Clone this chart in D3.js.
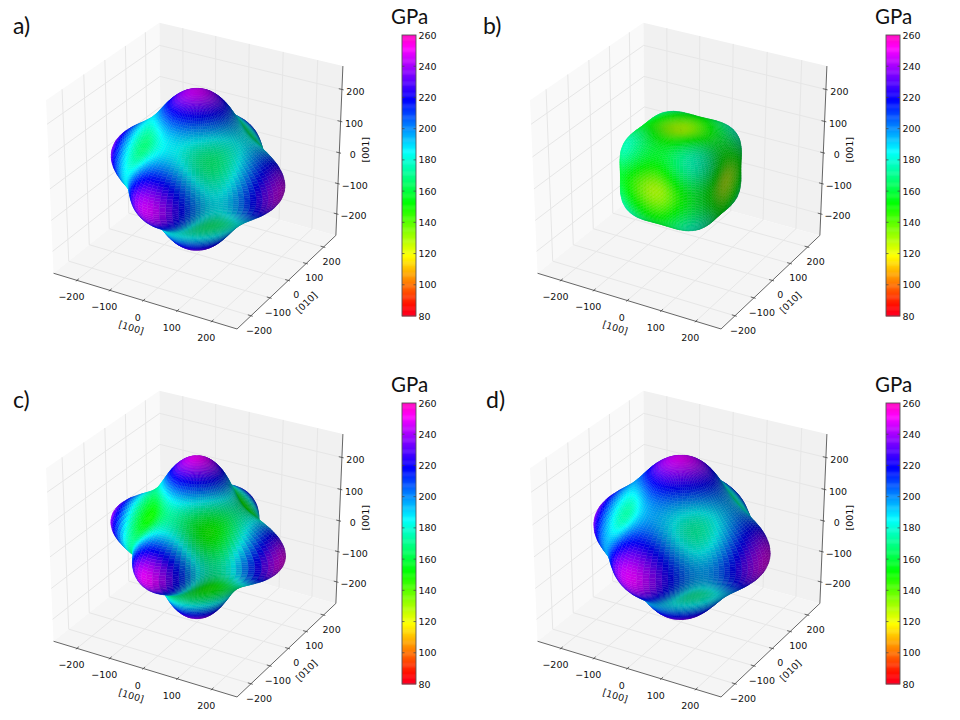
<!DOCTYPE html>
<html>
<head>
<meta charset="utf-8">
<script src="https://cdnjs.cloudflare.com/ajax/libs/d3/7.8.5/d3.min.js"></script>
<style>
html, body { margin: 0; padding: 0; background: #fff; }
svg { display: block; }
text { font-family: "DejaVu Sans", sans-serif; fill: #111; }
.slide { font-family: Lato, "Open Sans", sans-serif; fill: #111; }
</style>
</head>
<body>
<div id="chart"></div>
<script>
// values, GPa, one entry per panel
const panels = ['a)', 'b)', 'c)', 'd)'];
const along100 = [246, 130, 250, 248];
const along110 = [187, 158, 173, 197];
const along111 = [168, 176, 150, 174];

const axisTicks = [-200, -100, 0, 100, 200];
const axisNames = ['[100]', '[010]', '[001]'];
const barTicks = [80, 100, 120, 140, 160, 180, 200, 220, 240, 260];

// gist_rainbow stops
const rampStops = [0, 0.03, 0.215, 0.4, 0.586, 0.77, 0.954, 1];
const rampColors = ['#ff0029', '#ff0000', '#ffff00', '#00ff00', '#00ffff', '#0000ff', '#ff00ff', '#ff00bf'];

const width = 960, height = 720;
const limit = 272;
const rows = 100, cols = 100;
const offsets = [[0, 0], [484, 0], [0, 368], [484, 368]];
const labelPos = [[13, 34], [483, 34], [13, 408], [486, 408]];

const color = d3.scaleLinear().domain(rampStops).range(rampColors);
const barColor = d3.scaleLinear().domain([80, 260]).range([0, 1]);

const unit = d3.scaleLinear().domain([-limit, limit]).range([-0.5, 0.5]);
const px = d3.scaleLinear().domain([-0.1, 0.1]).range([196.9 - 211.8, 196.9 + 211.8]);
const py = d3.scaleLinear().domain([-0.1, 0.1]).range([170.6 + 197.5, 170.6 - 197.5]);
const barY = d3.scaleLinear().domain([80, 260]).range([316, 35]);

// camera as matplotlib sets it: elev 30, azim -60, dist 10
const elev = 30 * Math.PI / 180, azim = -60 * Math.PI / 180, dist = 10;
const n = [Math.cos(azim) * Math.cos(elev), Math.sin(azim) * Math.cos(elev), Math.sin(elev)];
const u = [-n[1], n[0], 0].map(d => d / Math.hypot(n[0], n[1]));
const v = [n[1] * u[2] - n[2] * u[1], n[2] * u[0] - n[0] * u[2], n[0] * u[1] - n[1] * u[0]];
const dot = (a, b) => a[0] * b[0] + a[1] * b[1] + a[2] * b[2];
const light = [-1, -1, 0.5].map(d => d / 1.5);

const project = p => {
	let c = p.map(unit);
	let w = dist - dot(n, c);
	return { x: px(dot(u, c) / w), y: py(dot(v, c) / w), depth: w };
};

const line = d3.line().x(d => d.x).y(d => d.y);

const svg = d3.select('#chart').append('svg')
	.attr('width', width)
	.attr('height', height);

const buildFaces = (e100, e110, e111) => {
	let s0 = 1 / e100;
	let s1 = 4 * (1 / e110 - s0);
	let s2 = 27 * (1 / e111 - s0 - s1 / 3);
	const modulus = (l, m, k) => {
		let j = l * l * m * m + m * m * k * k + l * l * k * k;
		return 1 / (s0 + s1 * j + s2 * l * l * m * m * k * k);
	};
	let verts = [];
	for (let i = 0; i <= rows; i++) {
		let th = Math.PI * i / rows;
		let row = [];
		for (let j = 0; j <= cols; j++) {
			let ph = 2 * Math.PI * j / cols;
			let l = Math.sin(th) * Math.cos(ph), m = Math.sin(th) * Math.sin(ph), k = Math.cos(th);
			let e = modulus(l, m, k);
			row.push({ p: [e * l, e * m, e * k], e: e });
		}
		verts.push(row);
	}
	let faces = [];
	let eye = n.map(d => d * dist * 2 * limit);
	for (let i = 0; i < rows; i++) {
		for (let j = 0; j < cols; j++) {
			let a = verts[i][j], b = verts[i][j + 1], c = verts[i + 1][j + 1], d = verts[i + 1][j];
			let d1 = c.p.map((t, q) => t - a.p[q]);
			let d2 = d.p.map((t, q) => t - b.p[q]);
			let nor = [d1[1] * d2[2] - d1[2] * d2[1], d1[2] * d2[0] - d1[0] * d2[2], d1[0] * d2[1] - d1[1] * d2[0]];
			let len = Math.hypot(nor[0], nor[1], nor[2]);
			if (len === 0) continue;
			let mid = [0, 1, 2].map(q => (a.p[q] + b.p[q] + c.p[q] + d.p[q]) / 4);
			if (dot(nor, mid) < 0) nor = nor.map(t => -t);
			nor = nor.map(t => t / len);
			// skip what faces away from the camera
			if (dot(nor, eye.map((t, q) => t - mid[q])) < 0) continue;
			let shade = 0.5 + 0.5 * (dot(nor, light) + 1) / 2;
			let e = (a.e + b.e + c.e + d.e) / 4;
			let col = d3.rgb(color(barColor(e)));
			col = d3.rgb(col.r * shade, col.g * shade, col.b * shade);
			let pts = [a, b, c, d].map(t => project(t.p));
			faces.push({ pts: pts, depth: d3.mean(pts, t => t.depth), fill: col.formatRgb() });
		}
	}
	return faces.sort((x, y) => y.depth - x.depth);
};

const drawPanel = (g, idx) => {
	let lo = -limit, hi = limit;

	// panes
	let panes = [
		{ fill: '#f9f9f9', pts: [[lo, lo, lo], [lo, hi, lo], [lo, hi, hi], [lo, lo, hi]] },
		{ fill: '#f1f1f1', pts: [[lo, hi, lo], [hi, hi, lo], [hi, hi, hi], [lo, hi, hi]] },
		{ fill: '#f5f5f5', pts: [[lo, lo, lo], [hi, lo, lo], [hi, hi, lo], [lo, hi, lo]] }
	];
	g.append('g').selectAll('path')
		.data(panes)
		.join('path')
		.attr('d', d => line(d.pts.map(project)) + 'Z')
		.attr('fill', d => d.fill);

	// grid lines, each tick runs over the two panes it touches
	let gridLines = [];
	axisTicks.forEach(t => {
		gridLines.push([[t, lo, lo], [t, hi, lo], [t, hi, hi]]);
		gridLines.push([[hi, t, lo], [lo, t, lo], [lo, t, hi]]);
		gridLines.push([[lo, lo, t], [lo, hi, t], [hi, hi, t]]);
	});
	g.append('g').selectAll('path')
		.data(gridLines)
		.join('path')
		.attr('d', d => line(d.map(project)))
		.attr('fill', 'none')
		.attr('stroke', '#e6e6e6')
		.attr('stroke-width', 1);

	// axis lines
	let edges = [
		[[lo, lo, lo], [hi, lo, lo]],
		[[hi, lo, lo], [hi, hi, lo]],
		[[hi, hi, lo], [hi, hi, hi]]
	];
	g.append('g').selectAll('path')
		.data(edges)
		.join('path')
		.attr('d', d => line(d.map(project)))
		.attr('stroke', '#555')
		.attr('stroke-width', 0.9);

	// tick marks
	let inner = 9, outer = 5;
	let tickLines = [];
	axisTicks.forEach(t => {
		tickLines.push([[t, lo + inner, lo], [t, lo - outer, lo]]);
		tickLines.push([[hi - inner, t, lo], [hi + outer, t, lo]]);
		tickLines.push([[hi - inner, hi, t], [hi + outer, hi, t]]);
	});
	g.append('g').selectAll('path')
		.data(tickLines)
		.join('path')
		.attr('d', d => line(d.map(project)))
		.attr('stroke', '#444')
		.attr('stroke-width', 0.8);

	// tick labels
	const fmt = d3.format('d');
	const tickText = (pos, dx, dy) => {
		g.append('g').selectAll('text')
			.data(axisTicks)
			.join('text')
			.attr('x', d => project(pos(d)).x + (typeof dx === 'function' ? dx(d) : dx))
			.attr('y', d => project(pos(d)).y + dy)
			.attr('text-anchor', 'middle')
			.attr('dominant-baseline', 'central')
			.attr('font-size', 9.5)
			.text(d => fmt(d));
	};
	tickText(t => [t, lo, lo], -5.5, 16.5);
	tickText(t => [hi, t, lo], 8, 14.5);
	tickText(t => [hi, hi, t], d => d < 0 ? 16.7 : 13.5, 1.8);

	// axis names
	let names = [
		{ pos: [0, lo, lo], dx: -12, dy: 27, rot: 17 },
		{ pos: [hi, 0, lo], dx: 18, dy: 22, rot: -45 },
		{ pos: [hi, hi, 0], dx: 26, dy: -3, rot: -90 }
	];
	g.append('g').selectAll('text')
		.data(names)
		.join('text')
		.attr('transform', d => {
			let p = project(d.pos);
			return `translate(${p.x + d.dx},${p.y + d.dy}) rotate(${d.rot})`;
		})
		.attr('text-anchor', 'middle')
		.attr('dominant-baseline', 'central')
		.attr('font-size', 9.5)
		.text((d, i) => axisNames[i]);

	// surface
	g.append('g').selectAll('path')
		.data(buildFaces(along100[idx], along110[idx], along111[idx]))
		.join('path')
		.attr('d', d => line(d.pts) + 'Z')
		.attr('fill', d => d.fill)
		.attr('stroke', d => d.fill)
		.attr('stroke-width', 0.35);

	// colour bar
	let barX = 402, barW = 14;
	let cells = d3.range(0, 256);
	let cellValue = d3.scaleLinear().domain([0, 256]).range([80, 260]);
	let bar = g.append('g');
	bar.selectAll('rect')
		.data(cells)
		.join('rect')
		.attr('x', barX)
		.attr('width', barW)
		.attr('y', d => barY(cellValue(d + 1)))
		.attr('height', d => barY(cellValue(d)) - barY(cellValue(d + 1)) + 0.4)
		.attr('fill', d => color(barColor(cellValue(d + 0.5))));
	bar.append('rect')
		.attr('x', barX)
		.attr('y', barY(260))
		.attr('width', barW)
		.attr('height', barY(80) - barY(260))
		.attr('fill', 'none')
		.attr('stroke', '#555')
		.attr('stroke-width', 0.9);
	bar.selectAll('path')
		.data(barTicks.slice(1, -1))
		.join('path')
		.attr('d', d => `M${barX},${barY(d)}h2.5M${barX + barW},${barY(d)}h-2.5`)
		.attr('stroke', '#444')
		.attr('stroke-width', 0.7);
	bar.selectAll('text')
		.data(barTicks)
		.join('text')
		.attr('x', barX + barW + 2.5)
		.attr('y', d => barY(d))
		.attr('dominant-baseline', 'central')
		.attr('font-size', 9.5)
		.text(d => d);

	g.append('text')
		.attr('class', 'slide')
		.attr('x', 391)
		.attr('y', 24)
		.attr('font-size', 20.5)
		.text('GPa');
};

panels.forEach((name, i) => {
	let g = svg.append('g').attr('transform', `translate(${offsets[i][0]},${offsets[i][1]})`);
	drawPanel(g, i);
	svg.append('text')
		.attr('class', 'slide')
		.attr('x', labelPos[i][0])
		.attr('y', labelPos[i][1])
		.attr('font-size', 23)
		.text(name);
});
</script>
</body>
</html>
